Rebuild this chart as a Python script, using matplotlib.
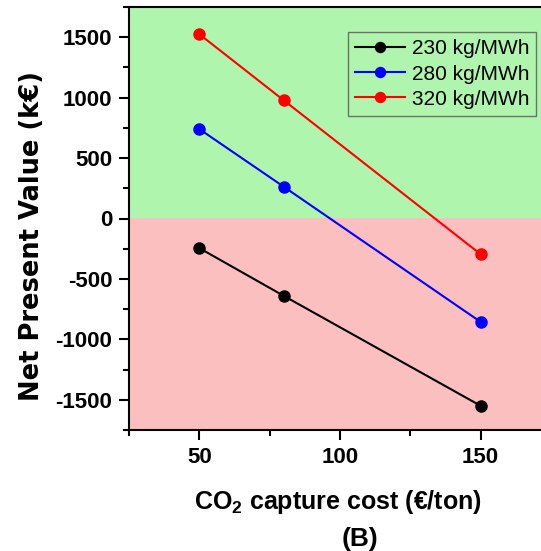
import matplotlib
matplotlib.use("Agg")
import matplotlib.pyplot as plt
from matplotlib.ticker import MultipleLocator

plt.rcParams['font.family'] = ['Liberation Sans', 'DejaVu Sans']
plt.rcParams['axes.unicode_minus'] = False
plt.rcParams['mathtext.fontset'] = 'custom'
plt.rcParams['mathtext.rm'] = 'Liberation Sans'
plt.rcParams['mathtext.bf'] = 'Liberation Sans:bold'

x_cost = [50, 80, 150]
series_labels = ['230 kg/MWh', '280 kg/MWh', '320 kg/MWh']
npv_230 = [-245, -640, -1550]
npv_280 = [740, 263, -856]
npv_320 = [1525, 978, -296]
colors = ['black', 'blue', 'red']

fig = plt.figure(figsize=(5.41, 5.51), dpi=100)
W, H = 541, 551
ax = fig.add_axes([129 / W, 1 - 430 / H, (551 - 129) / W, (430 - 7) / H])
AW, AH = 551 - 129, 430 - 7

ax.set_xlim(25, 175)
ax.set_ylim(-1750, 1750)
ax.axhspan(0, 1750, color='#B0F5AE', zorder=0, lw=0)
ax.axhspan(-1750, 0, color='#FBBFBF', zorder=0, lw=0)

for vals, lab, c in zip([npv_230, npv_280, npv_320], series_labels, colors):
    ax.plot(x_cost, vals, '-o', color=c, lw=1.5, ms=8, mec=c, mfc=c, label=lab, zorder=3)

ax.xaxis.set_major_locator(MultipleLocator(50))
ax.xaxis.set_minor_locator(MultipleLocator(25))
ax.yaxis.set_major_locator(MultipleLocator(500))
ax.yaxis.set_minor_locator(MultipleLocator(250))
ax.tick_params(which='major', direction='out', length=7, width=1.5, labelsize=16, pad=5)
ax.tick_params(which='minor', direction='out', length=4, width=1.5)
for lbl in ax.get_xticklabels() + ax.get_yticklabels():
    lbl.set_fontweight('bold')
for s in ax.spines.values():
    s.set_linewidth(1.5)

ax.set_ylabel('Net Present Value (k€)', fontsize=18.5, fontweight='bold',
              family=['DejaVu Sans'])
ax.yaxis.set_label_coords((45 - 129) / AW, (430 - 236) / AH)
ax.set_xlabel('CO$_\\mathbf{2}$ capture cost (€/ton)', fontsize=18, fontweight='bold')
ax.xaxis.set_label_coords((338 - 129) / AW, (430 - 488) / AH)

leg = ax.legend(loc='upper left', bbox_to_anchor=((348 - 129) / AW, 1 - (32 - 7) / AH),
                fontsize=15, frameon=True, fancybox=False, edgecolor='#555555',
                facecolor='none', handlelength=2.4, handletextpad=0.3, borderpad=0.35,
                labelspacing=0.3, borderaxespad=0, markerscale=0.9)
leg.get_frame().set_linewidth(1.0)

fig.text(360 / W, 1 - 539 / H, '(B)', fontsize=19, fontweight='bold', ha='center', va='center')

fig.savefig('out.png', dpi=100)
